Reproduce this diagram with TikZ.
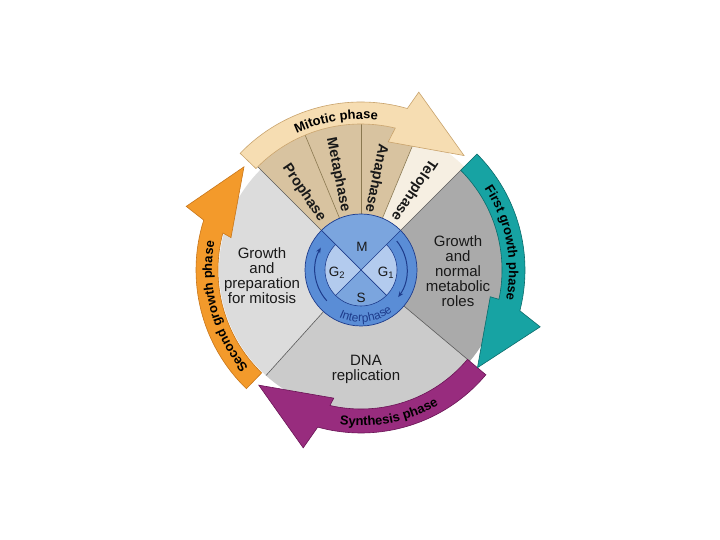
\documentclass[tikz,border=0pt]{standalone}
\usepackage{fontspec}
\setmainfont{Liberation Sans}
\usetikzlibrary{decorations.text,arrows.meta}
\definecolor{gtwo}{HTML}{DCDCDC}
\definecolor{gone}{HTML}{AAAAAA}
\definecolor{sgray}{HTML}{CBCBCB}
\definecolor{tanc}{HTML}{D8C3A0}
\definecolor{telo}{HTML}{F6EFE2}
\definecolor{mitband}{HTML}{F6DDB2}
\definecolor{mitedge}{HTML}{C9A36C}
\definecolor{orng}{HTML}{F39A2B}
\definecolor{orngedge}{HTML}{C8761A}
\definecolor{tealb}{HTML}{17A3A3}
\definecolor{tealedge}{HTML}{0B6B6B}
\definecolor{purp}{HTML}{982C7E}
\definecolor{purpedge}{HTML}{6A1455}
\definecolor{ringblue}{HTML}{5A8DD6}
\definecolor{midq}{HTML}{7BA5DE}
\definecolor{lightq}{HTML}{B3CBEE}
\definecolor{navy}{HTML}{1E3C8C}
\definecolor{oliveline}{HTML}{8A7850}
\begin{document}
\begin{tikzpicture}[x=1pt,y=1pt,
  divline/.style={draw=black!65, line width=0.6pt},
  subline/.style={draw=oliveline, line width=0.6pt},
  bigtxt/.style={font=\fontsize{15}{15}\selectfont, align=center, text=black!90},
  phaselbl/.style={font=\bfseries\fontsize{14.5}{14.5}\selectfont, text=black!90},
  innerlbl/.style={font=\fontsize{13.5}{13.5}\selectfont, text=black!90},
  bandpath/.style={line width=0.6pt}]
\useasboundingbox (0,0) rectangle (720,540);
\fill[white] (0,0) rectangle (720,540);
\begin{scope}[shift={(361,270)}]
 % gray interphase sectors
 \fill[gone] (0,0) -- (45:142pt) arc[start angle=45,end angle=-40,radius=142pt] -- cycle;
 \fill[sgray] (0,0) -- (-40:142pt) arc[start angle=-40,end angle=-132,radius=142pt] -- cycle;
 \fill[gtwo] (0,0) -- (-132:142pt) arc[start angle=-132,end angle=-225,radius=142pt] -- cycle;
 % mitotic sectors
 \fill[tanc] (0,0) -- (135:146pt) arc[start angle=135,end angle=67.5,radius=146pt] -- cycle;
 \fill[telo] (0,0) -- (67.5:146pt) arc[start angle=67.5,end angle=45,radius=146pt] -- cycle;
 % dividing lines
 \draw[divline] (45:56pt) -- (45:146pt);
 \draw[divline] (135:56pt) -- (135:146pt);
 \draw[divline] (-40:56pt) -- (-40:142pt);
 \draw[divline] (-132:56pt) -- (-132:142pt);
 \draw[subline] (112.5:56pt) -- (112.5:146pt);
 \draw[subline] (90:56pt) -- (90:146pt);
 \draw[subline] (67.5:56pt) -- (67.5:146pt);
 % band arrows
 \filldraw[bandpath, fill=orng, draw=orngedge] (226:143pt) arc[start angle=226,end angle=165,radius=143pt] -- (166:134pt) -- (138.6:156pt) -- (160:186pt) -- (162.4:165pt) arc[start angle=162.4,end angle=226,radius=165pt] -- cycle;
 \filldraw[bandpath, fill=purp, draw=purpedge] (-40:139pt) arc[start angle=-40,end angle=-102.9,radius=139pt] -- (-102:131pt) -- (-131.6:154pt) -- (-108:187pt) -- (-105.4:163pt) arc[start angle=-105.4,end angle=-40,radius=163pt] -- cycle;
 \filldraw[bandpath, fill=tealb, draw=tealedge] (45:141pt) arc[start angle=45,end angle=-12,radius=141pt] -- (-11.7:132pt) -- (-40:152pt) -- (-17.6:188pt) -- (-14.4:164pt) arc[start angle=-14.4,end angle=45,radius=164pt] -- cycle;
 \filldraw[bandpath, fill=mitband, draw=mitedge] (136:146pt) arc[start angle=136,end angle=76.4,radius=146pt] -- (78:131pt) -- (48:154pt) -- (72:187pt) -- (74:168pt) arc[start angle=74,end angle=136,radius=168pt] -- cycle;
 % band labels
 \path[decorate, decoration={text along path, text align=center,
   text={|\bfseries\fontsize{13}{13}\selectfont|Mitotic phase}}]
   (124:151pt) arc[start angle=124,end angle=75,radius=151pt];
 \path[decorate, decoration={text along path, text align=center,
   text={|\bfseries\fontsize{13}{13}\selectfont|First growth phase}}]
   (42:148pt) arc[start angle=42,end angle=-20,radius=148pt];
 \path[decorate, decoration={text along path, text align=center,
   text={|\bfseries\fontsize{13}{13}\selectfont|Second growth phase}}]
   (226:149pt) arc[start angle=226,end angle=164,radius=149pt];
 \path[decorate, decoration={text along path, text align=center,
   text={|\bfseries\fontsize{13}{13}\selectfont|Synthesis phase}}]
   (-102:156pt) arc[start angle=-102,end angle=-56,radius=156pt];
 % inner ring
 \fill[ringblue] (0,0) circle (56pt);
 \fill[midq] (0,0) -- (45:56pt) arc[start angle=45,end angle=135,radius=56pt] -- cycle;
 \fill[lightq] (0,0) -- (45:36pt) arc[start angle=45,end angle=-45,radius=36pt] -- cycle;
 \fill[midq] (0,0) -- (-45:36pt) arc[start angle=-45,end angle=-135,radius=36pt] -- cycle;
 \fill[lightq] (0,0) -- (-135:36pt) arc[start angle=-135,end angle=-225,radius=36pt] -- cycle;
 \draw[navy, line width=0.6pt] (135:36pt) arc[start angle=135,end angle=405,radius=36pt];
 \draw[navy, line width=0.7pt] (0,0) circle (56pt);
 \draw[navy, line width=0.7pt] (135:56pt) -- (-45:36pt);
 \draw[navy, line width=0.7pt] (45:56pt) -- (-135:36pt);
 \draw[navy, line width=1pt, -{Stealth[length=5.5pt,width=4.5pt]}] (222:46pt) arc[start angle=222,end angle=151,radius=46pt];
 \draw[navy, line width=1pt, -{Stealth[length=5.5pt,width=4.5pt]}] (39:46pt) arc[start angle=39,end angle=-36,radius=46pt];
 \path[decorate, decoration={text along path, text align=center,
   text={|\color{navy}\fontsize{12}{12}\selectfont|Interphase}}]
   (-134:52pt) arc[start angle=-134,end angle=-34,radius=52pt];
 \node[innerlbl] (m) at (1,23) {M};
 \node[innerlbl] (g2) at (-24,-3) {G\textsubscript{2}};
 \node[innerlbl] (g1) at (25,-3) {G\textsubscript{1}};
 \node[innerlbl] (s) at (0,-28) {S};
 % mitotic sub-phase labels
 \node[phaselbl, rotate=-56] (pro) at (126.5:96pt) {Prophase};
 \node[phaselbl, rotate=-78.75] (meta) at (103.6:98pt) {Metaphase};
 \node[phaselbl, rotate=-101.25] (ana) at (80.7:93pt) {Anaphase};
 \node[phaselbl, rotate=-123.75] (telo) at (56.5:96pt) {Telophase};
 % region texts
 \node[bigtxt] (g2txt) at (-99,-6) {Growth\\and\\preparation\\for mitosis};
 \node[bigtxt] (g1txt) at (97,-1.5) {Growth\\and\\normal\\metabolic\\roles};
 \node[bigtxt] (stxt) at (5,-99) {DNA\\replication};
\end{scope}
\end{tikzpicture}
\end{document}
